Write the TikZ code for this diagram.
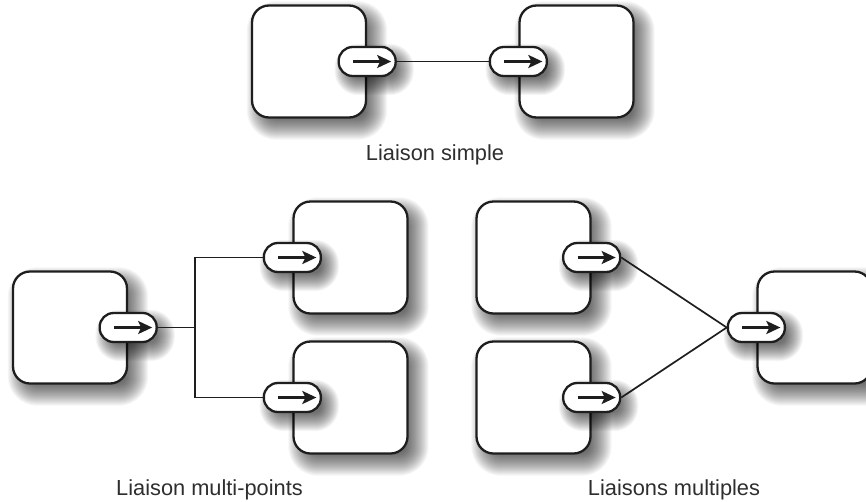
\documentclass[tikz,border=0pt]{standalone}
\usepackage{fontspec}
\setmainfont{Liberation Sans}
\usetikzlibrary{arrows.meta}
\definecolor{ink}{HTML}{1E1E1E}
\definecolor{captext}{HTML}{2E2E2E}
\pgfdeclarelayer{blockshadow}
\pgfdeclarelayer{blocks}
\pgfdeclarelayer{portshadow}
\pgfsetlayers{blockshadow,blocks,portshadow,main}
\tikzset{
  block/.style={draw=ink, line width=2.3pt, fill=white, rounded corners=17pt,
    minimum width=114pt, minimum height=112pt, inner sep=0pt},
  port/.style={draw=ink, line width=2.3pt, fill=white, rounded corners=14pt,
    minimum width=57pt, minimum height=29pt, inner sep=0pt},
  link/.style={draw=ink, line width=1.7pt},
  flow/.style={draw=ink, line width=2.2pt, -{Stealth[length=14pt,width=13pt,inset=3pt]}},
  caption/.style={text=captext, font=\fontsize{21.8}{26}\selectfont, anchor=base, inner sep=0pt},
  haze/.style={fill=black, fill opacity=#1, draw=none}
}
% soft drop shadow: a stack of faint rounded rectangles of growing size
% #1 node, #2 corner radius, #3 x offset, #4 y offset,
% #5 smallest spread, #6 number of layers, #7 opacity per layer
\newcommand\softshadow[7]{%
  \foreach \k in {1,...,#6}{%
    \pgfmathsetmacro\sp{#5+\k-1}%
    \pgfmathsetmacro\rr{max(#2+\sp,1)}%
    \pgfmathsetmacro\ax{#3-\sp}\pgfmathsetmacro\ay{#4-\sp}%
    \pgfmathsetmacro\bx{#3+\sp}\pgfmathsetmacro\by{#4+\sp}%
    \fill[haze=#7, rounded corners=\rr pt]
      ([xshift=\ax pt, yshift=\ay pt]#1.south west) rectangle ([xshift=\bx pt, yshift=\by pt]#1.north east);
  }}
\begin{document}
\begin{tikzpicture}[x=1pt, y=1pt]
  \useasboundingbox (0,0) rectangle (866,-501);

  \begin{pgfonlayer}{blocks}
    \node[block] (b1) at (309,-61.5) {};
    \node[block] (b2) at (576.5,-61.5) {};
    \node[block] (b3) at (70,-327.5) {};
    \node[block] (b4) at (350.5,-257.5) {};
    \node[block] (b5) at (350.5,-397.5) {};
    \node[block] (b6) at (533.5,-257.5) {};
    \node[block] (b7) at (533.5,-397.5) {};
    \node[block] (b8) at (814.5,-327.5) {};
  \end{pgfonlayer}

  % ports on the block borders
  \node[port] (p1) at (b1.east) {};
  \node[port] (p2) at (b2.west) {};
  \node[port] (p3) at (b3.east) {};
  \node[port] (p4) at (b4.west) {};
  \node[port] (p5) at (b5.west) {};
  \node[port] (p6) at (b6.east) {};
  \node[port] (p7) at (b7.east) {};
  \node[port] (p8) at (b8.west) {};

  \begin{pgfonlayer}{blockshadow}
    \foreach \b in {b1,b2,b3,b4,b5,b6,b7,b8}
      \softshadow{\b}{17}{8}{-9}{-10}{23}{0.035};
  \end{pgfonlayer}
  \begin{pgfonlayer}{portshadow}
    \foreach \p in {p1,p2,p3,p4,p5,p6,p7,p8}
      \softshadow{\p}{14}{7}{-8}{-8}{19}{0.04};
  \end{pgfonlayer}

  % arrows inside the ports
  \foreach \p in {p1,p2,p3,p4,p5,p6,p7,p8}
    \draw[flow] ([xshift=-14pt]\p.center) -- ([xshift=24pt]\p.center);

  % connectors
  \draw[link] (p1.east) -- (p2.west);

  \coordinate (j) at (195,-327.5);
  \draw[link] (p3.east) -- (j);
  \draw[link] (j) |- (p4.west);
  \draw[link] (j) |- (p5.west);

  \draw[link] (p6.east) -- (p8.west);
  \draw[link] (p7.east) -- (p8.west);

  % captions
  \node[caption] (c1) at (435,-160) {Liaison simple};
  \node[caption] (c2) at (209.5,-495) {Liaison multi-points};
  \node[caption] (c3) at (674,-495) {Liaisons multiples};
\end{tikzpicture}
\end{document}
